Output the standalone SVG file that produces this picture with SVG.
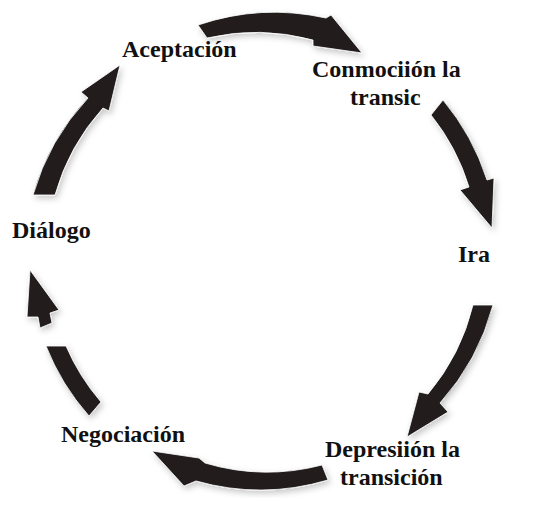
<svg xmlns="http://www.w3.org/2000/svg" width="550" height="511" viewBox="0 0 550 511">
  <defs>
    <filter id="sh" x="-20%" y="-20%" width="140%" height="140%">
      <feDropShadow dx="2" dy="3" stdDeviation="3" flood-color="#000" flood-opacity="0.22"/>
    </filter>
    <style>
      .lbl { font-family: "Liberation Serif", "Times New Roman", serif; font-weight: bold; font-size: 24px; fill: #111; }
      .arr { fill: #221e1f; stroke: #fff; stroke-width: 0.8; stroke-linejoin: miter; filter: url(#sh); }
    </style>
  </defs>
  <rect width="550" height="511" fill="#fff"/>

  <g id="connectors">
    <!-- Aceptación -> Conmoción -->
    <path class="arr" d="M198,25 A237,237 0 0 1 326,18 L331,15 L362,53 L313,46 L313,40 A218,218 0 0 0 207,38 Z"/>
    <!-- Conmoción -> Ira -->
    <path class="arr" d="M443,100 A237,237 0 0 1 487,180 L494,178 L492,228 L460,190 L469,187 A218,218 0 0 0 431,115 Z"/>
    <!-- Ira -> Depresión -->
    <path class="arr" d="M493,305 A237,237 0 0 1 440,403 L448,412 L407,437 L419,392 L428,394 A218,218 0 0 0 473,305 Z"/>
    <!-- Depresión -> Negociación -->
    <path class="arr" d="M328,480 A237,237 0 0 1 196,481 L184,486 L152,451 L199,458 L205,463 A218,218 0 0 0 322,465 Z"/>
    <!-- Negociación -> Diálogo (band) -->
    <path class="arr" d="M89,416 A237,237 0 0 1 46,346 L66,346 A218,218 0 0 0 101,402 Z"/>
    <!-- Negociación -> Diálogo (head) -->
    <path class="arr" d="M40,328 L38,317 L27,317 L30,270 L59,310 L50,313 L52,323 Z"/>
    <!-- Diálogo -> Aceptación -->
    <path class="arr" d="M33,195 A237,237 0 0 1 88,98 L81,92 L120,65 L109,111 L103,108 A218,218 0 0 0 55,195 Z"/>
  </g>

  <g id="node-aceptacion"><text class="lbl" x="122" y="57">Aceptación</text></g>
  <g id="node-conmocion">
    <text class="lbl" x="312" y="77">Conmociión la</text>
    <text class="lbl" x="350" y="105">transic</text>
  </g>
  <g id="node-ira"><text class="lbl" x="458" y="262">Ira</text></g>
  <g id="node-depresion">
    <text class="lbl" x="325" y="457">Depresiión la</text>
    <text class="lbl" x="340" y="485">transición</text>
  </g>
  <g id="node-negociacion"><text class="lbl" x="61" y="442">Negociación</text></g>
  <g id="node-dialogo"><text class="lbl" x="12" y="238">Diálogo</text></g>
</svg>
